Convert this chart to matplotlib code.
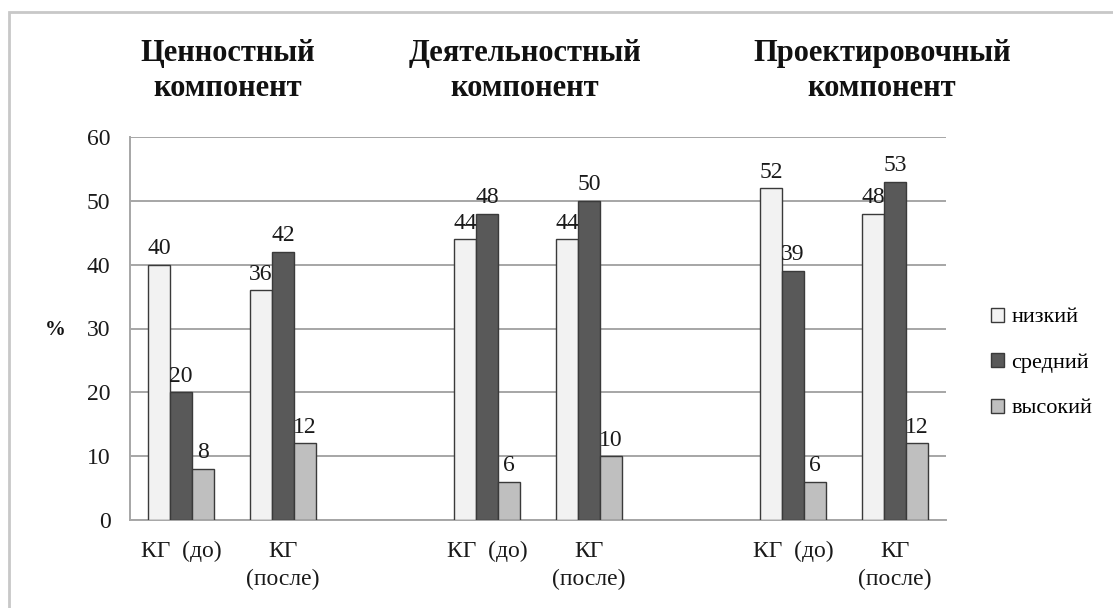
import numpy as np
import matplotlib
matplotlib.use("Agg")
import matplotlib.pyplot as plt
from matplotlib.patches import Rectangle

plt.rcParams['font.family'] = ['Liberation Serif', 'DejaVu Serif']

# категории по оси X (пустые позиции разделяют компоненты)
categories = ["КГ  (до)", "КГ\n(после)", "", "КГ  (до)", "КГ\n(после)", "", "КГ  (до)", "КГ\n(после)"]
components = ["Ценностный\nкомпонент", "Деятельностный\nкомпонент", "Проектировочный\nкомпонент"]
levels = ["низкий", "средний", "высокий"]

# значения в %, None — пустая позиция
low = [40, 36, None, 44, 44, None, 52, 48]
mid = [20, 42, None, 48, 50, None, 39, 53]
high = [8, 12, None, 6, 10, None, 6, 12]

colors = ["#F2F2F2", "#595959", "#BFBFBF"]
grid_color = "#A6A6A6"

fig = plt.figure(figsize=(11.13, 6.08), dpi=100)
ax = fig.add_axes([130 / 1113, 1 - 520 / 608, (946 - 130) / 1113, (520 - 137) / 608])

x = np.arange(len(categories))
w = 0.215
for k, (vals, col, name) in enumerate(zip([low, mid, high], colors, levels)):
    idx = [i for i, v in enumerate(vals) if v is not None]
    hs = [vals[i] for i in idx]
    bars = ax.bar(x[idx] + (k - 1) * w, hs, width=w, color=col,
                  edgecolor="#3A3A3A", linewidth=1.0, label=name, zorder=3)
    ax.bar_label(bars, padding=4, fontsize=17, color="#1A1A1A")

ax.set_xlim(-0.5, len(categories) - 0.5)
ax.set_ylim(0, 60)
ax.set_yticks(range(0, 61, 10))
ax.set_xticks(x)
ax.set_xticklabels(categories, fontsize=17, linespacing=1.45)
ax.tick_params(axis="y", length=0, pad=14, labelsize=17, labelcolor="#1A1A1A")
ax.tick_params(axis="x", length=0, pad=15, labelcolor="#1A1A1A")
ax.grid(axis="y", color=grid_color, linewidth=1.4, zorder=0)
for s in ["top", "right"]:
    ax.spines[s].set_visible(False)
for s in ["left", "bottom"]:
    ax.spines[s].set_color(grid_color)
    ax.spines[s].set_linewidth(1.4)

# заголовки компонентов над группами
title_x = [228, 525, 882]
for tx, title in zip(title_x, components):
    fig.text(tx / 1113, 1 - 71 / 608, title, ha="center", va="center",
             multialignment="center", fontsize=22, fontweight="bold",
             linespacing=1.25, color="#111111")

fig.text(55 / 1113, 1 - 330 / 608, "%", ha="center", va="center",
         fontsize=15, fontweight="bold", color="#111111")

ax.legend(loc="center left", bbox_to_anchor=(980 / 1113, 1 - 363 / 608),
          bbox_transform=fig.transFigure, frameon=False, fontsize=16,
          handlelength=0.6, handleheight=0.6, handletextpad=0.3,
          labelspacing=1.15, borderpad=0)

# рамка вокруг области диаграммы
fig.add_artist(Rectangle((9 / 1113, -0.05), 1.1, 1 - 12 / 608 + 0.05,
                         transform=fig.transFigure, fill=False,
                         edgecolor="#C8C8C8", linewidth=2.0))

fig.savefig("out.png", dpi=100)
